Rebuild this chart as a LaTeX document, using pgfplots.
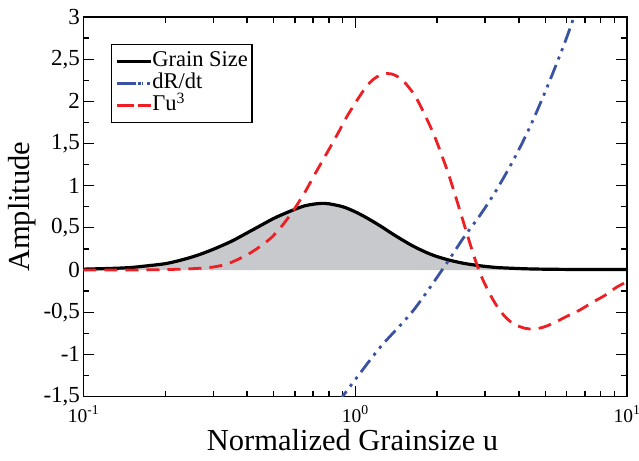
\documentclass[border=0pt]{standalone}
\usepackage{fontspec}
\setmainfont{Liberation Serif}
\usepackage{pgfplots}
\usepackage{pgfplotstable}
\pgfplotsset{compat=1.18}

\definecolor{gsred}{RGB}{237,30,36}
\definecolor{gsblue}{RGB}{58,82,162}
\definecolor{gsfill}{RGB}{200,201,204}

% grain size distribution
\pgfplotstableread{
u     a
0.1   0.01
0.13  0.02
0.15  0.03
0.172 0.05
0.2   0.075
0.227 0.115
0.26  0.17
0.3   0.245
0.35  0.34
0.4   0.44
0.45  0.53
0.5   0.61
0.55  0.67
0.6   0.72
0.65  0.76
0.7   0.78
0.75  0.79
0.8   0.785
0.9   0.75
1.0   0.69
1.1   0.62
1.24  0.52
1.4   0.41
1.64  0.28
1.9   0.185
2.17  0.125
2.5   0.08
2.88  0.05
3.3   0.03
3.81  0.02
4.5   0.012
6     0.007
10    0.005
}\grain

% dR/dt
\pgfplotstableread{
u     a
0.86  -1.58
1.0   -1.30
1.24  -0.91
1.64  -0.475
2.17  0.08
2.5   0.38
2.88  0.65
3.31  0.95
3.83  1.31
4.4   1.70
5.07  2.16
5.83  2.65
6.3   2.95
6.6   3.15
}\drdt

% Gamma u^3
\pgfplotstableread{
u     a
0.1   0.0
0.15  0.0
0.2   0.005
0.25  0.015
0.3   0.035
0.34  0.075
0.378 0.14
0.41  0.2
0.447 0.28
0.49  0.38
0.53  0.5
0.57  0.63
0.61  0.77
0.655 0.93
0.703 1.11
0.75  1.27
0.81  1.46
0.87  1.64
0.932 1.82
1.0   1.98
1.073 2.13
1.13  2.22
1.20  2.29
1.31  2.33
1.4   2.31
1.505 2.24
1.64  2.09
1.735 1.95
1.89  1.70
1.995 1.52
2.17  1.20
2.30  0.95
2.5   0.57
2.7   0.22
2.88  -0.04
3.1   -0.26
3.31  -0.42
3.55  -0.55
3.83  -0.64
4.2   -0.69
4.52  -0.70
4.9   -0.68
5.36  -0.63
6.0   -0.55
6.7   -0.475
7.5   -0.38
8.3   -0.30
9.2   -0.20
10    -0.14
}\gammau

\begin{document}
\begin{tikzpicture}
  \begin{axis}[
      scale only axis,
      width=543.5pt, height=379.5pt,
      xmode=log,
      xmin=0.1, xmax=10,
      ymin=-1.5, ymax=3,
      xtick={0.1,1,10},
      xticklabels={10\textsuperscript{-1},10\textsuperscript{0},10\textsuperscript{1}},
      minor xtick={0.2,0.3,0.4,0.5,0.6,0.7,0.8,0.9,2,3,4,5,6,7,8,9},
      ytick={-1.5,-1,-0.5,0,0.5,1,1.5,2,2.5,3},
      minor y tick num=1,
      tick align=inside,
      major tick length=11pt,
      minor tick length=6pt,
      tick style={black, line width=1.3pt},
      axis line style={line width=1.8pt},
      /pgf/number format/use comma,
      /pgf/number format/assume math mode=true,
      yticklabel style={font=\fontsize{23}{23}\selectfont},
      xticklabel style={font=\fontsize{19.5}{19.5}\selectfont, anchor=base, yshift=-26pt},
      xlabel={Normalized Grainsize u},
      ylabel={Amplitude},
      label style={font=\fontsize{30.5}{30.5}\selectfont},
      xlabel style={at={(axis description cs:0.495,0)}, anchor=base, yshift=-54pt},
      ylabel style={at={(axis description cs:-0.113,0.5)}, anchor=center},
      legend style={at={(rel axis cs:0.0497,0.929)}, anchor=north west,
        draw=black, line width=1.3pt, font=\fontsize{22.5}{22.5}\selectfont,
        inner xsep=4pt, inner ysep=6pt, row sep=0pt,
        nodes={inner sep=0pt, text height=16pt, text depth=6pt},
        cells={anchor=west}},
      legend image code/.code={
        \draw[#1] (4pt,0pt) -- (26pt,0pt);
        \path (0pt,0pt) -- (34pt,0pt);},
    ]
    \addplot[fill=gsfill, draw=none, smooth, forget plot] table[x=u, y=a]{\grain} \closedcycle;
    \addplot[black, line width=3.2pt, smooth] table[x=u, y=a]{\grain};
    \addlegendentry{Grain Size}
    \addplot[gsblue, line width=2.8pt, smooth,
      dash pattern=on 15pt off 6pt on 3pt off 6pt on 3pt off 6pt] table[x=u, y=a]{\drdt};
    \addlegendentry{dR/dt}
    \addplot[gsred, line width=2.8pt, smooth, dash pattern=on 13pt off 8pt] table[x=u, y=a]{\gammau};
    \addlegendentry{Γu\textsuperscript{3}}
  \end{axis}
  \pgfresetboundingbox
  \path[use as bounding box] (-83.5pt,-63.5pt) rectangle (555.5pt,396.5pt);
\end{tikzpicture}
\end{document}
